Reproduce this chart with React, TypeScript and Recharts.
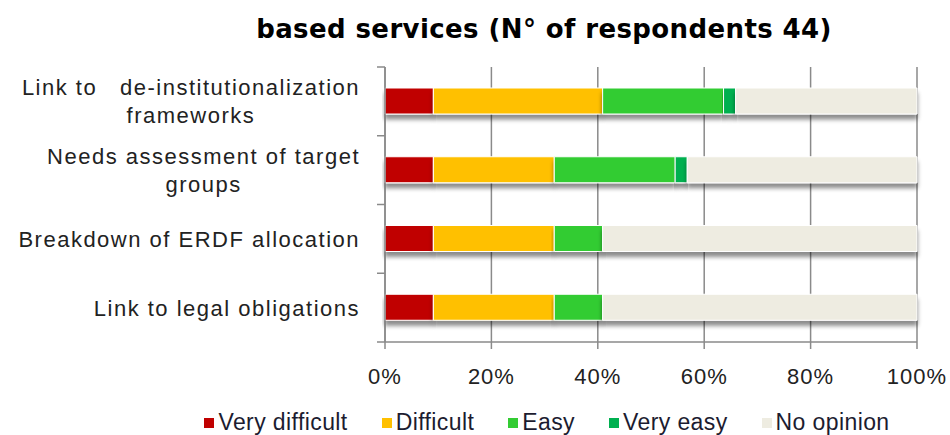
import React, { useLayoutEffect, useRef, useState } from "react";
import { BarChart, Bar, XAxis, YAxis, CartesianGrid } from "recharts";

const categories = [
  "Link to   de-institutionalization\nframeworks",
  "Needs assessment of target\ngroups",
  "Breakdown of ERDF allocation",
  "Link to legal obligations",
];

// number of respondents (out of 44) per answer
const veryDifficult = [4, 4, 4, 4];
const difficult = [14, 10, 10, 10];
const easy = [10, 10, 4, 4];
const veryEasy = [1, 1, 0, 0];
const noOpinion = [15, 19, 26, 26];

const xTicks = [0, 0.2, 0.4, 0.6, 0.8, 1];

const series = [
  { key: "veryDifficult", name: "Very difficult", color: "#C00000" },
  { key: "difficult", name: "Difficult", color: "#FFC000" },
  { key: "easy", name: "Easy", color: "#33CC33" },
  { key: "veryEasy", name: "Very easy", color: "#00B050" },
  { key: "noOpinion", name: "No opinion", color: "#EEECE1" },
];

const data = categories.map((c, i) => ({
  category: c,
  veryDifficult: veryDifficult[i],
  difficult: difficult[i],
  easy: easy[i],
  veryEasy: veryEasy[i],
  noOpinion: noOpinion[i],
}));

const gridColor = "#8a8a8a";

const YTick = (props: any) => {
  const { x, y, payload, index } = props;
  const lines = String(payload.value).split("\n");
  const ref = useRef<SVGGElement>(null);
  const [w, setW] = useState(0);
  useLayoutEffect(() => {
    if (ref.current) setW(ref.current.getBBox().width);
  }, [payload.value]);
  const right = x - 25;
  const lineH = 28;
  const off = payload.offset || 0;
  return (
    <g>
      <line x1={x - 8} x2={x} y1={y - off} y2={y - off} stroke={gridColor} strokeWidth={1.5} />
      {index === categories.length - 1 && (
        <line x1={x - 8} x2={x} y1={y + off} y2={y + off} stroke={gridColor} strokeWidth={1.5} />
      )}
      <g ref={ref} transform={`translate(${right - w / 2}, ${y})`}>
        {lines.map((l, i) => (
          <text
            key={i}
            x={0}
            y={(i - (lines.length - 1) / 2) * lineH}
            dy="0.36em"
            textAnchor="middle"
            fill="#222"
            fontSize={22}
            letterSpacing={1.5}
            style={{ whiteSpace: "pre" }}
          >
            {l}
          </text>
        ))}
      </g>
    </g>
  );
};

const Legend = () => (
  <div
    style={{
      position: "absolute",
      top: 409,
      left: 0,
      width: 1094,
      display: "flex",
      justifyContent: "center",
      gap: "34px",
      fontFamily: "Liberation Sans",
      fontSize: "23px",
      letterSpacing: "0.4px",
      color: "#1c1c30",
    }}
  >
    {series.map((s) => (
      <div key={s.key} style={{ display: "flex", alignItems: "center", gap: "4px" }}>
        <div style={{ width: 10, height: 10, backgroundColor: s.color }} />
        <span>{s.name}</span>
      </div>
    ))}
  </div>
);

export default function App() {
  return (
    <div
      style={{
        position: "absolute",
        top: 0,
        left: 0,
        width: 950,
        height: 435,
        background: "#fff",
        overflow: "hidden",
      }}
    >
      <div
        style={{
          position: "absolute",
          top: 14,
          left: 144,
          width: 800,
          textAlign: "center",
          fontFamily: "DejaVu Sans",
          fontWeight: "bold",
          fontSize: "26px",
          letterSpacing: "0.4px",
          color: "#000",
        }}
      >
        based services (N° of respondents 44)
      </div>
      <BarChart
        width={950}
        height={435}
        data={data}
        layout="vertical"
        stackOffset="expand"
        margin={{ top: 67, right: 33, bottom: 43, left: 0 }}
        style={{ fontFamily: "Liberation Sans" }}
      >
        <defs>
          <filter id="barShadow" x="-5%" y="-20%" width="110%" height="170%">
            <feDropShadow dx="0" dy="5" stdDeviation="2.2" floodColor="#000" floodOpacity="0.45" />
          </filter>
        </defs>
        <CartesianGrid horizontal={false} stroke={gridColor} strokeWidth={1.5} />
        <XAxis
          type="number"
          domain={[0, 1]}
          ticks={xTicks}
          tickFormatter={(v: number) => `${Math.round(v * 100)}%`}
          axisLine={{ stroke: gridColor, strokeWidth: 1.5 }}
          tickLine={{ stroke: gridColor, strokeWidth: 1.5 }}
          tickSize={7}
          tickMargin={19}
          height={50}
          tick={{ fill: "#222", fontSize: 22, letterSpacing: 1 }}
          interval={0}
        />
        <YAxis
          type="category"
          dataKey="category"
          width={385}
          tickLine={false}
          tickSize={0}
          tickMargin={0}
          axisLine={{ stroke: gridColor, strokeWidth: 1.5 }}
          tick={<YTick />}
          interval={0}
        />
        {series.map((s) => (
          <Bar
            key={s.key}
            dataKey={s.key}
            name={s.name}
            stackId="a"
            fill={s.color}
            stroke="#fff"
            strokeWidth={1}
            barSize={26}
            filter="url(#barShadow)"
            isAnimationActive={false}
          />
        ))}
      </BarChart>
      <Legend />
    </div>
  );
}
